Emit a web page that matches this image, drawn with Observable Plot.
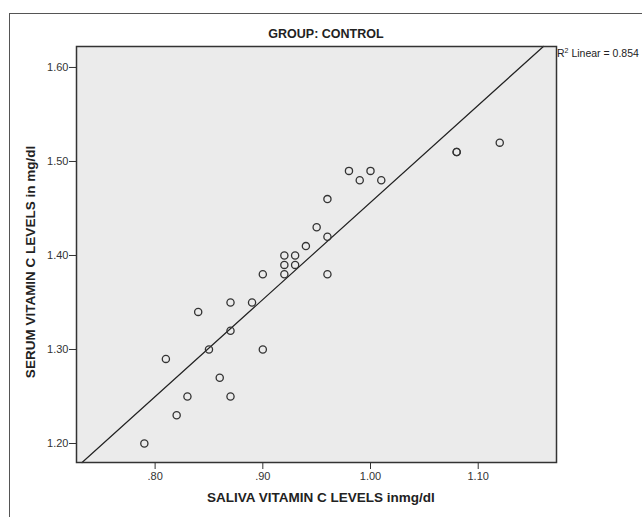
<!DOCTYPE html>
<html><head><meta charset="utf-8">
<script src="https://cdn.jsdelivr.net/npm/d3@7"></script>
<script src="https://cdn.jsdelivr.net/npm/@observablehq/plot@0.6"></script>
<style>body{margin:0;background:#fff;} svg{display:block}</style>
</head><body><div id="chart"></div>
<script>
// ---- data ----
const salivaVitC = [0.94,0.92,0.93,0.92,0.93,0.90,0.92,0.96,0.87,0.89,0.84,0.87,0.85,0.90,0.81,0.86,0.83,0.87,0.82,0.79,1.12,1.08,1.08,0.98,1.00,0.99,1.01,0.96,0.95,0.96];
const serumVitC  = [1.41,1.40,1.40,1.39,1.39,1.38,1.38,1.38,1.35,1.35,1.34,1.32,1.30,1.30,1.29,1.27,1.25,1.25,1.23,1.20,1.52,1.51,1.51,1.49,1.49,1.48,1.48,1.46,1.43,1.42];
const xTicks = [0.8, 0.9, 1.0, 1.1];
const xTickLabels = [".80", ".90", "1.00", "1.10"];
const yTicks = [1.2, 1.3, 1.4, 1.5, 1.6];
const yTickLabels = ["1.20", "1.30", "1.40", "1.50", "1.60"];
const xDomain = [0.727, 1.1727];
const yDomain = [1.1798, 1.6223];
const chartTitle = "GROUP: CONTROL";
const xTitle = "SALIVA VITAMIN C LEVELS inmg/dl";
const yTitle = "SERUM VITAMIN C LEVELS in mg/dl";
const r2Value = "0.854";

const points = salivaVitC.map((x, i) => ({x, y: serumVitC[i]}));

// least-squares fit of serum on saliva
const mx = d3.mean(salivaVitC), my = d3.mean(serumVitC);
const slope = d3.sum(points, d => (d.x - mx) * (d.y - my)) / d3.sum(points, d => (d.x - mx) ** 2);
const intercept = my - slope * mx;
const x0 = Math.max(xDomain[0], (yDomain[0] - intercept) / slope);
const x1 = Math.min(xDomain[1], (yDomain[1] - intercept) / slope);
const fitLine = [x0, x1].map(x => ({x, y: intercept + slope * x}));

const font = "'Liberation Sans', Arial, sans-serif";
const W = 642, H = 517;

const plot = Plot.plot({
  width: W, height: H,
  marginLeft: 76, marginRight: 86, marginTop: 46, marginBottom: 55,
  style: {fontFamily: font, fontSize: "11px", color: "#333", background: "#fff"},
  x: {domain: xDomain, ticks: xTicks, tickFormat: d => xTickLabels[xTicks.indexOf(d)], tickSize: 7, tickPadding: 3, label: null},
  y: {domain: yDomain, ticks: yTicks, tickFormat: d => yTickLabels[yTicks.indexOf(d)], tickSize: 7, tickPadding: 1, label: null},
  marks: [
    Plot.frame({fill: "#ebebeb", stroke: "none"}),
    Plot.line(fitLine, {x: "x", y: "y", stroke: "#222", strokeWidth: 1.2}),
    Plot.dot(points, {x: "x", y: "y", r: 3.6, stroke: "#333", strokeWidth: 1.3, fill: "none"}),
    Plot.frame({stroke: "#333", strokeWidth: 1.5})
  ]
});
document.getElementById("chart").appendChild(plot);

const svg = d3.select(plot);
svg.insert("rect", ":first-child")
  .attr("x", 9.5).attr("y", 13.5).attr("width", 700).attr("height", 600)
  .attr("fill", "none").attr("stroke", "#555").attr("stroke-width", 1);

svg.append("text").text(chartTitle)
  .attr("x", 326).attr("y", 38).attr("text-anchor", "middle")
  .attr("font-family", font).attr("font-weight", "bold").attr("font-size", 12.5).attr("fill", "#222");

const r2 = svg.append("text").attr("x", 557).attr("y", 57).attr("text-anchor", "start")
  .attr("font-family", font).attr("font-size", 10.5).attr("fill", "#222");
r2.append("tspan").text("R");
r2.append("tspan").text("2").attr("font-size", 7).attr("dy", -4);
r2.append("tspan").text(" Linear = " + r2Value).attr("dy", 4);

svg.append("text").text(xTitle)
  .attr("x", 321).attr("y", 502).attr("text-anchor", "middle")
  .attr("font-family", font).attr("font-weight", "bold").attr("font-size", 13.5).attr("fill", "#222");

svg.append("text").text(yTitle)
  .attr("transform", "translate(35,262) rotate(-90)").attr("text-anchor", "middle")
  .attr("font-family", font).attr("font-weight", "bold").attr("font-size", 13.5).attr("fill", "#222");
</script></body></html>
